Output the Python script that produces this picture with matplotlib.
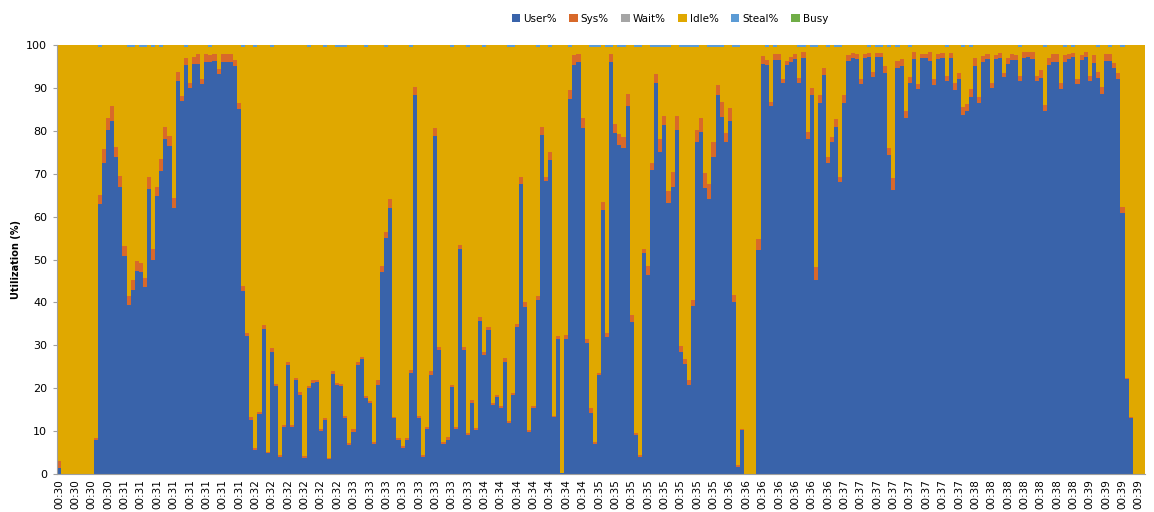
import matplotlib
matplotlib.use("Agg")
import matplotlib.pyplot as plt
from matplotlib.patches import Patch
import numpy as np

series_names = ["User%", "Sys%", "Wait%", "Idle%", "Steal%", "Busy"]
colors = ["#3963AA", "#D8692A", "#A5A5A5", "#E0A800", "#5B9BD5", "#70AD47"]

user_pct = [
    1.5, 0, 0, 0, 0, 0, 0, 0, 0, 7.9, 62.9, 72.6, 80.2, 82.4, 74.0, 66.8, 50.9, 39.4, 43.0, 47.4,
    47.2, 43.7, 66.4, 49.9, 64.8, 70.6, 78.2, 76.5, 61.9, 91.7, 87.0, 95.3, 89.9, 95.6, 95.6, 90.8,
    96.1, 96.0, 96.3, 93.2, 96.0, 96.0, 96.0, 95.0,
    85.1, 42.7, 32.2, 12.7, 5.6, 14.0, 33.9, 4.8, 28.4, 20.4, 4.0, 11.0, 25.4, 11.0, 21.8, 18.4,
    3.7, 20.0, 21.3, 21.5, 10.1, 12.6, 3.4, 23.2, 20.7, 20.4, 13.0, 6.8, 9.9, 25.4, 26.7, 17.6,
    16.5, 7.1, 20.7, 47.2, 54.9, 61.9, 13.0, 7.9, 6.0, 7.9, 23.5, 88.3,
    13.0, 4.0, 10.6, 23.1, 78.8, 28.9, 7.1, 7.9, 20.2, 10.6, 52.4, 28.9, 9.1, 16.6, 10.3, 35.7,
    27.7, 33.6, 16.1, 18.0, 15.3, 26.2, 11.8, 18.4, 34.2, 67.6, 39.0, 9.7, 15.3, 40.6, 79.0, 68.4,
    73.2, 13.2, 31.5, 0.3, 31.4, 87.3, 95.3, 96.1, 80.6, 30.5, 14.3,
    7.1, 23.1, 61.5, 32.0, 96.1, 79.4, 76.7, 75.9, 85.8, 35.5, 9.1, 4.0, 51.4, 46.5, 70.9, 91.2,
    75.1, 81.4, 63.1, 67.0, 80.3, 28.5, 25.6, 20.7, 39.2, 77.5, 79.8, 66.6, 64.0, 74.0, 88.3, 83.3,
    77.5, 82.2, 40.2, 1.7, 10.3, 0, 0, 0, 52.2, 95.6, 95.3, 85.7,
    96.5, 96.5, 91.1, 95.3, 96.1, 96.7, 91.1, 96.9, 78.0, 88.3, 45.2, 86.4, 93.0, 72.4, 77.5, 81.0,
    68.1, 86.4, 96.3, 96.9, 96.7, 90.9, 96.9, 97.1, 92.6, 97.1, 97.1, 93.4, 74.4, 66.2, 94.6, 95.1,
    82.9, 91.1, 96.7, 89.7, 96.9, 96.9, 96.3, 90.7, 96.7, 96.9, 91.7, 96.9, 89.5,
    92.0, 83.6, 84.5, 87.8, 95.1, 86.4, 96.1, 96.7, 89.9, 96.7, 96.9, 92.6, 95.6, 96.5, 96.5, 91.5,
    96.9, 97.1, 96.7, 91.5, 92.3, 84.5, 95.3, 96.1, 96.1, 89.7, 96.1, 96.7, 97.1, 90.9, 96.5, 97.1,
    91.5, 95.9, 92.3, 88.6, 96.3, 96.3, 94.6, 92.0, 60.8, 22.1, 13.0, 0, 0, 0,
]

sys_pct = [
    1.6, 0, 0, 0, 0, 0, 0, 0, 0, 0.6, 2.1, 3.1, 2.7, 3.4, 2.3, 2.7, 2.2, 2.1, 2.2, 2.3,
    2.1, 1.9, 2.8, 2.5, 2.2, 2.8, 2.8, 2.3, 2.5, 1.9, 1.1, 1.7, 1.3, 1.7, 2.4, 1.2,
    1.9, 1.7, 1.6, 1.1, 1.8, 1.8, 1.8, 1.4,
    1.3, 1.1, 0.7, 0.7, 0.4, 0.5, 0.8, 0.4, 0.9, 0.6, 0.4, 0.4, 0.7, 0.4, 0.5, 0.8,
    0.4, 0.5, 0.6, 0.5, 0.5, 0.4, 0.4, 0.7, 0.6, 0.6, 0.5, 0.5, 0.5, 0.7, 0.6, 0.6,
    0.6, 0.4, 1.2, 1.3, 1.4, 2.1, 0.4, 0.4, 0.5, 0.4, 0.7, 2.0,
    0.5, 0.4, 0.4, 0.8, 1.8, 0.8, 0.4, 0.7, 0.5, 0.4, 1.0, 0.8, 0.4, 0.6, 0.4, 1.0,
    0.8, 0.6, 0.5, 0.5, 0.5, 0.8, 0.5, 0.5, 0.8, 1.7, 1.0, 0.5, 0.5, 0.9, 1.8, 0.8,
    1.9, 0.3, 0.7, 0.0, 1.0, 2.2, 2.4, 1.8, 2.3, 1.0, 1.0,
    0.4, 0.4, 2.0, 0.8, 1.8, 2.3, 2.5, 2.6, 2.7, 1.6, 0.4, 0.4, 1.0, 2.0, 1.7, 2.0,
    2.9, 2.0, 2.9, 3.5, 3.1, 1.3, 1.1, 1.2, 1.4, 2.8, 3.3, 3.6, 3.6, 3.5, 2.4, 3.5,
    1.9, 3.0, 1.5, 0.4, 0.3, 0, 0, 0, 2.5, 1.8, 1.3, 0.9,
    1.4, 1.4, 0.9, 1.0, 1.2, 1.2, 1.1, 1.5, 1.8, 1.6, 3.1, 1.9, 1.6, 1.6, 1.1, 1.7,
    1.2, 1.9, 1.4, 1.3, 1.2, 1.1, 1.0, 1.1, 1.2, 1.1, 1.1, 1.6, 1.5, 2.7, 1.7, 1.6,
    1.6, 1.4, 1.7, 1.2, 1.1, 1.1, 2.1, 1.3, 1.2, 1.3, 1.1, 1.3, 1.7,
    1.4, 2.0, 1.8, 1.9, 1.8, 1.4, 1.3, 1.3, 1.3, 1.0, 1.3, 0.8, 1.3, 1.4, 1.2, 1.3,
    1.5, 1.3, 1.7, 1.3, 1.9, 1.5, 1.6, 1.8, 1.8, 1.4, 1.6, 1.2, 1.1, 1.1, 1.2, 1.3,
    1.3, 1.8, 1.5, 1.7, 1.7, 1.6, 1.1, 1.4, 1.4, 0.3, 0.3, 0, 0, 0,
]

# bars with a small Steal% sliver at the top (index, value)
steal_bars = [10, 17, 18, 20, 21, 23, 25, 31, 37, 45, 48, 52, 61, 65, 68, 69, 70, 75, 80, 86,
              96, 100, 104, 110, 111, 117, 120, 125, 130, 131, 132, 134, 135, 137, 138, 141, 142,
              145, 146, 147, 148, 149, 152, 153, 154, 155, 156, 159, 160, 161, 162, 165, 166,
              173, 175, 181, 182, 184, 185, 188, 190, 191, 198, 200, 201, 203, 205, 208, 217,
              221, 223, 235, 241, 246, 248, 254, 257, 260]
steal_vals = [0.5] * len(steal_bars)

tick_labels = (["00:30"] * 4 + ["00:31"] * 8 + ["00:32"] * 6 + ["00:33"] * 8 + ["00:34"] * 7 +
               ["00:35"] * 8 + ["00:36"] * 7 + ["00:37"] * 8 + ["00:38"] * 7 + ["00:39"] * 4)
label_every = 4

n = len(user_pct)
user = np.array(user_pct, dtype=float)
sysv = np.array(sys_pct[:n], dtype=float)
wait = np.zeros(n)
steal = np.zeros(n)
for i, v in zip(steal_bars, steal_vals):
    if i < n and user[i] > 0:
        steal[i] = v
busy = np.zeros(n)
idle = 100.0 - user - sysv - wait - steal - busy

fig = plt.figure(figsize=(11.54, 5.12), dpi=100)
ax = fig.add_axes([57 / 1154, 1 - 474 / 512, (1145 - 57) / 1154, (474 - 45) / 512])

x = np.arange(n)
bottom = np.zeros(n)
for vals, col in zip([user, sysv, wait, idle, steal, busy], colors):
    ax.bar(x, vals, width=1.0, bottom=bottom, color=col, linewidth=0, align="center")
    bottom = bottom + vals

ax.set_xlim(-0.5, n - 0.5)
ax.set_ylim(0, 100)
ax.set_yticks(np.arange(0, 101, 10))
ax.tick_params(axis="y", labelsize=8, length=3, color="#A0A0A0", pad=4)
ticks = np.arange(0, n, label_every)[:len(tick_labels)]
ax.set_xticks(ticks)
ax.set_xticklabels(tick_labels[:len(ticks)], rotation=90, fontsize=7.5)
ax.tick_params(axis="x", length=0, pad=4)
for s in ["top", "right"]:
    ax.spines[s].set_visible(False)
for s in ["left", "bottom"]:
    ax.spines[s].set_color("#A0A0A0")
    ax.spines[s].set_linewidth(0.8)

ax.set_ylabel("Utilization (%)", fontsize=7, fontweight="bold", labelpad=4)

handles = [Patch(facecolor=c, edgecolor="none") for c in colors]
fig.legend(handles, series_names, loc="center", bbox_to_anchor=(670 / 1154, 1 - 19 / 512),
           ncol=6, frameon=False, fontsize=7.5, handlelength=0.8, handleheight=0.8,
           handletextpad=0.3, columnspacing=1.2)

fig.savefig("out.png", dpi=100)
